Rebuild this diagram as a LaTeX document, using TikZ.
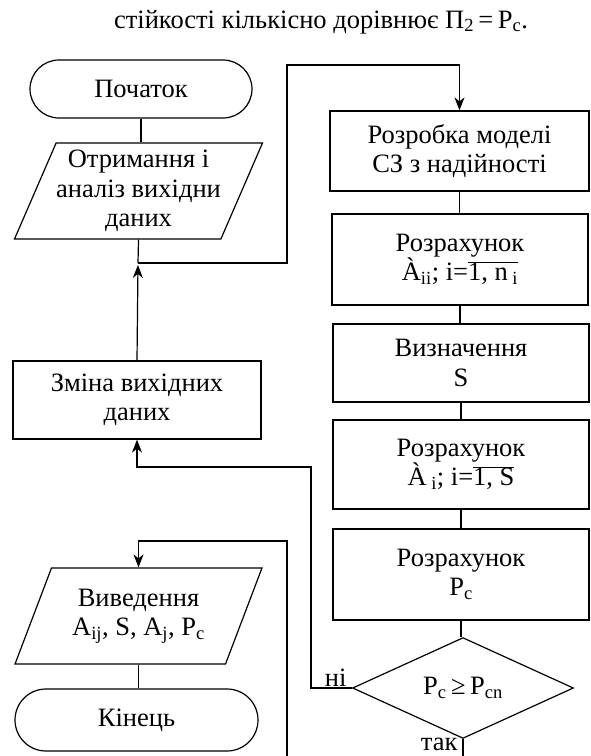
\documentclass[tikz,border=0pt]{standalone}
\usepackage{fontspec}
\setmainfont{Liberation Serif}
\usetikzlibrary{shapes.geometric,arrows.meta}
\tikzstyle{box}=[draw,rectangle,align=center,minimum width=256pt,inner sep=2pt]
\tikzstyle{term}=[draw,rectangle,rounded corners=29pt,align=center]
\tikzstyle{io}=[draw,trapezium,trapezium left angle=63,trapezium right angle=117,trapezium stretches=true,align=center,minimum width=247pt,minimum height=96pt,inner sep=0pt]
\tikzstyle{cond}=[draw,diamond,align=center,minimum width=221pt,minimum height=97pt,inner sep=0pt]
\tikzstyle{flow}=[-{Stealth[length=13pt,width=10pt,inset=4pt]}]
\newcommand{\flowlink}[2]{\draw (#1.south) -- (#1.south |- #2.north);}

\begin{document}
\begin{tikzpicture}[x=1pt,y=-1pt,line width=1.2pt,font=\fontsize{26.5}{29.5}\selectfont]
    \useasboundingbox (0,0) rectangle (591,756);
    \node (title) at (321,22) {стійкості кількісно дорівнює Π\textsubscript{2}\,=\,P\textsubscript{c}.};
    
    % left column
    \node[term,minimum width=222pt,minimum height=58pt] (start) at (141,89) {Початок};
    \node[io] (input) at (138.5,191) {Отримання і\\аналіз вихідни\\даних};
    \node[box,minimum width=248pt,minimum height=78pt] (change) at (137,400) {Зміна вихідних\\даних};
    \node[io] (output) at (138.5,616) {Виведення\\A\textsubscript{ij}, S, A\textsubscript{j}, P\textsubscript{c}};
    \node[term,minimum width=243pt,minimum height=62pt,rounded corners=31pt] (stop) at (136.5,720) {Кінець};
    
    % right column
    \node[box,minimum width=259pt,minimum height=80pt] (model) at (459.5,151) {Розробка моделі\\СЗ з надійності};
    \node[box,minimum height=91pt] (calcA) at (460,259.5) {Розрахунок\\À\textsubscript{ii}; i=$\overline{\mbox{1, n\textsubscript{ i}}}$};
    \node[box,minimum height=78pt] (defS) at (461,363) {Визначення\\S};
    \node[box,minimum height=89pt] (calcAi) at (461,464.5) {Розрахунок\\À\textsubscript{ i}; i=$\overline{\mbox{1, S}}$};
    \node[box,minimum height=91pt] (calcP) at (461,574.5) {Розрахунок\\P\textsubscript{c}};
    \node[cond] (decide) at (463,688) {P\textsubscript{c}\,≥\,P\textsubscript{cn}};
    
    \node[anchor=east,inner sep=1pt] (no) at (348,678) {ні};
    \node[anchor=east,inner sep=1pt] (yes) at (459,744) {так};
    
    % helper points
    \coordinate (join) at (138,263);
    \coordinate (upR) at (287,65);
    \coordinate (noX) at (311,467);
    \coordinate (yesEnd) at (463,756);
    \coordinate (backEnd) at (287,756);
    \coordinate (backTop) at (287,541);
    
    \flowlink{start}{input}
    \flowlink{output}{stop}
    \flowlink{model}{calcA}
    \flowlink{calcA}{defS}
    \flowlink{defS}{calcAi}
    \flowlink{calcAi}{calcP}
    \draw (calcP.south) -- (calcP.south |- decide.north);
    
    \draw (input.south) -- (join);
    \draw[flow,shorten >=2pt] (change.north) -- (join);
    \draw[flow] (join) -| (upR) -| (model.north);
    \draw[flow] (decide.west) -| (noX) -| (change.south);
    \draw (decide.south) -- (yesEnd);
    \draw[flow] (backEnd) -- (backTop) -| (output.north);
\end{tikzpicture}
\end{document}
